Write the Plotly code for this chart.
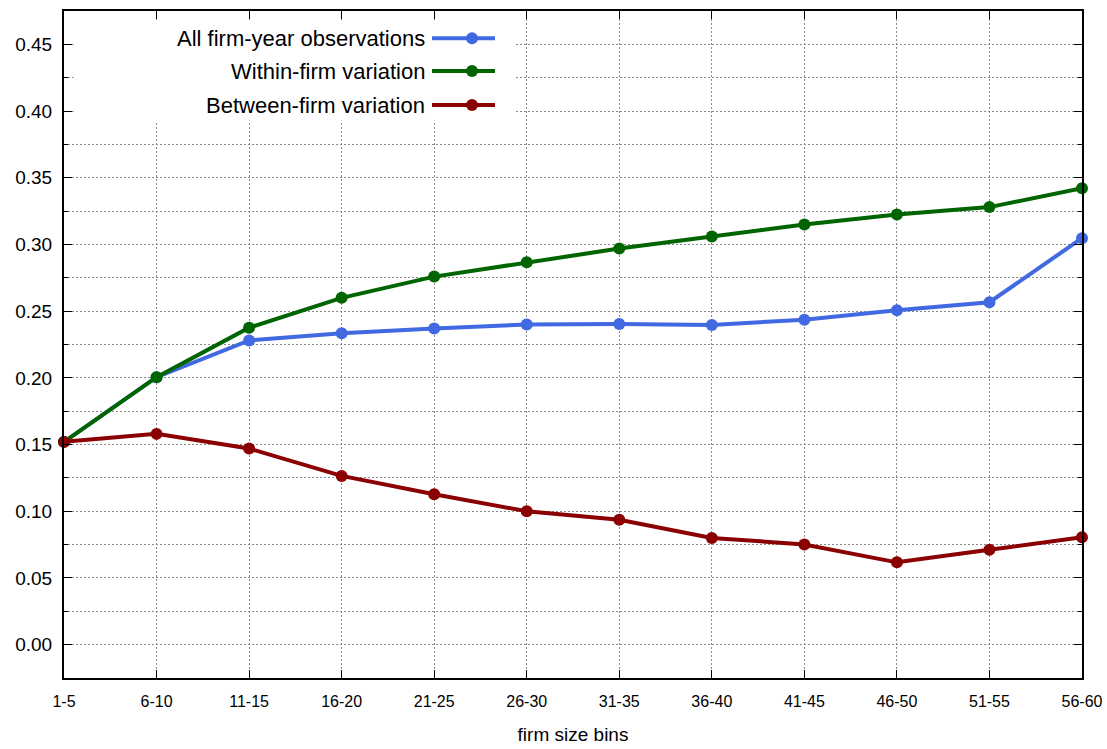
import plotly.graph_objects as go

bins = ["1-5", "6-10", "11-15", "16-20", "21-25", "26-30", "31-35",
        "36-40", "41-45", "46-50", "51-55", "56-60"]
all_obs = [0.152, 0.2005, 0.228, 0.2335, 0.237, 0.240, 0.2403, 0.2397,
           0.2436, 0.2507, 0.2567, 0.3047]
within = [0.152, 0.2005, 0.2376, 0.260, 0.2759, 0.2867, 0.2969, 0.3059,
          0.3149, 0.3224, 0.328, 0.3422]
between = [0.152, 0.158, 0.147, 0.1265, 0.1127, 0.100, 0.0936, 0.080,
           0.0751, 0.0617, 0.0711, 0.0805]
names = ["All firm-year observations", "Within-firm variation", "Between-firm variation"]
colors = ["#4169E1", "#006400", "#8B0000"]
series = [all_obs, within, between]
y_ticks = [0.0, 0.05, 0.10, 0.15, 0.20, 0.25, 0.30, 0.35, 0.40, 0.45]

FONT = "Liberation Sans, Arial, sans-serif"
fig = go.Figure()
for name, col, vals in zip(names, colors, series):
    fig.add_trace(go.Scatter(
        x=list(range(len(bins))), y=vals, name=name, mode="lines+markers",
        line=dict(color=col, width=4), marker=dict(color=col, size=12),
        cliponaxis=False, showlegend=False))

# white key box (hides grid behind legend like gnuplot), inset to keep ticks/frame
shapes = [dict(type="rect", xref="paper", yref="paper", x0=0.0095, x1=0.443,
               y0=0.832, y1=0.9865, fillcolor="white", line=dict(width=0), layer="above")]
annotations = []
rows_y = [0.959, 0.910, 0.859]
for name, col, yy in zip(names, colors, rows_y):
    shapes.append(dict(type="line", xref="paper", yref="paper", x0=0.3615, x1=0.4234,
                       y0=yy, y1=yy, line=dict(color=col, width=4), layer="above"))
    shapes.append(dict(type="circle", xref="paper", yref="paper", xsizemode="pixel",
                       ysizemode="pixel", xanchor=0.4008, yanchor=yy, x0=-6, x1=6,
                       y0=-6, y1=6, fillcolor=col, line=dict(color=col, width=0),
                       layer="above"))
    annotations.append(dict(xref="paper", yref="paper", x=0.3566, y=yy, text=name,
                            showarrow=False, xanchor="right", yanchor="middle",
                            font=dict(size=22, color="black", family=FONT)))

GRID_COLOR = "#8a8a8a"
GRID_DASH = "2px,2px"
grid = dict(gridcolor=GRID_COLOR, griddash=GRID_DASH, gridwidth=1)
fig.update_layout(
    width=1107, height=749,
    margin=dict(l=64, r=25, t=11, b=71, autoexpand=False),
    plot_bgcolor="white", paper_bgcolor="white",
    font=dict(family=FONT, size=16, color="black"),
    shapes=shapes, annotations=annotations,
    xaxis=dict(range=[0, len(bins) - 1], tickvals=list(range(len(bins))), ticktext=bins,
               showline=True, linecolor="black", linewidth=2, mirror="allticks",
               ticks="inside", ticklen=8, tickcolor="black", automargin=False,
               tickfont=dict(size=16), ticklabelstandoff=8,
               title=dict(text="firm size bins", font=dict(size=19), standoff=18),
               zeroline=False, **grid),
    yaxis=dict(range=[-0.025, 0.475], tickvals=y_ticks, tickformat=".2f",
               showline=True, linecolor="black", linewidth=2, mirror="allticks",
               ticks="inside", ticklen=8, tickcolor="black", zeroline=False,
               tickfont=dict(size=19), ticklabelstandoff=6, automargin=False,
               minor=dict(dtick=0.025, tick0=0, ticks="inside", ticklen=4,
                          tickcolor="black", showgrid=True, gridcolor=GRID_COLOR,
                          griddash=GRID_DASH),
               **grid),
)
fig.write_html("out.html")
